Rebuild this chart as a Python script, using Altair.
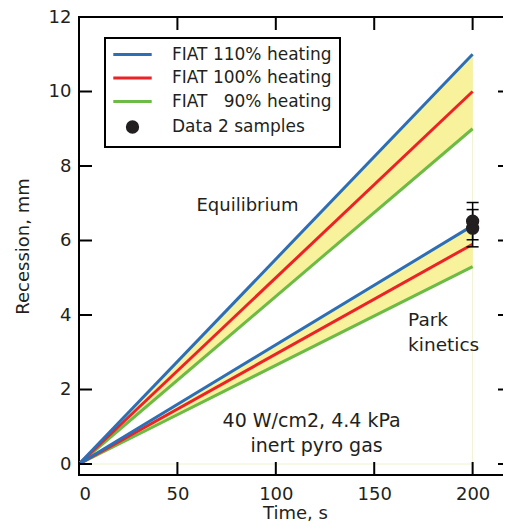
import altair as alt
import pandas as pd

# ---------------- data ----------------
time_s = [0, 200]
series_names = ["FIAT 110% heating", "FIAT 100% heating", "FIAT \u200790% heating", "Data 2 samples"]
series_colors = ["#2c6fb7", "#ec2227", "#6cbb46", "#231f20"]

eq_110 = [0.0, 11.0]
eq_100 = [0.0, 10.0]
eq_90 = [0.0, 9.0]
park_110 = [0.0, 6.4]
park_100 = [0.0, 5.9]
park_90 = [0.0, 5.3]

data_time = [200, 200]
data_recession = [6.52, 6.33]
data_error = [0.5, 0.5]

x_ticks = [0, 50, 100, 150, 200]
y_ticks = [0, 2, 4, 6, 8, 10, 12]
x_range = [0, 219.5]
y_range = [-0.295, 12]

ann_text_a = ["Equilibrium", "Park", "kinetics"]
ann_x_a = [85.6, 167.2, 167.2]
ann_y_a = [6.8, 3.7, 3.04]
ann_text_b = ["40 W/cm2, 4.4 kPa", "inert pyro gas"]
ann_x_b = [118.2, 120.7]
ann_y_b = [0.985, 0.33]

FONT = "DejaVu Sans"
INK = "#231f20"
BAND = "#f8f29c"

# ---------------- tables ----------------
rows = []
for grp, vals in [("Equilibrium", [eq_90, eq_100, eq_110]), ("Park", [park_90, park_100, park_110])]:
    for name, v in zip([series_names[2], series_names[1], series_names[0]], vals):
        for t, r in zip(time_s, v):
            rows.append(dict(group=grp, series=name, t=t, r=r))
lines_df = pd.DataFrame(rows)

band_df = pd.DataFrame(
    [dict(group="Equilibrium", t=t, lo=lo, hi=hi) for t, lo, hi in zip(time_s, eq_90, eq_110)]
    + [dict(group="Park", t=t, lo=lo, hi=hi) for t, lo, hi in zip(time_s, park_90, park_110)]
)

pts_df = pd.DataFrame(dict(t=data_time, r=data_recession, series=series_names[3]))
err_df = pd.DataFrame(dict(
    t=data_time,
    lo=[v - e for v, e in zip(data_recession, data_error)],
    hi=[v + e for v, e in zip(data_recession, data_error)],
))
caps_df = pd.DataFrame(dict(t=data_time + data_time,
                            r=list(err_df["lo"]) + list(err_df["hi"])))

ann_a = pd.DataFrame(dict(t=ann_x_a, r=ann_y_a, label=ann_text_a))
ann_b = pd.DataFrame(dict(t=ann_x_b, r=ann_y_b, label=ann_text_b))

faint_v = pd.DataFrame(dict(t=[200], lo=[0.0], hi=[11.0]))
faint_h = pd.DataFrame(dict(r=[0.0], t0=[0], t1=[200]))

# inward tick marks on the four frame sides (positions at the axis ends)
left_df = pd.DataFrame(dict(t=x_range[0], r=y_ticks))
right_df = pd.DataFrame(dict(t=x_range[1], r=y_ticks))
bottom_df = pd.DataFrame(dict(t=x_ticks, r=y_range[0]))
top_df = pd.DataFrame(dict(t=x_ticks, r=y_range[1]))

# ---------------- scales / axes ----------------
xscale = alt.Scale(domain=x_range, nice=False, zero=False, padding=0)
yscale = alt.Scale(domain=y_range, nice=False, zero=False, padding=0)
xaxis = alt.Axis(values=x_ticks, title="Time, s", labelPadding=10, titlePadding=1)
yaxis = alt.Axis(values=y_ticks, title="Recession, mm", labelPadding=8, titlePadding=16)


def X(field):
    return alt.X(f"{field}:Q", scale=xscale, axis=xaxis)


def Y(field):
    return alt.Y(f"{field}:Q", scale=yscale, axis=yaxis)


line_path = "M-2.743,0H2.743"
dot_path = "M-0.736,0A0.736,0.736,0,1,1,0.736,0A0.736,0.736,0,1,1,-0.736,0Z"
legend_scale = alt.Scale(domain=series_names, range=series_colors)
line_scale = alt.Scale(domain=series_names[:3], range=series_colors[:3])
shape_scale = alt.Scale(domain=series_names, range=[line_path, line_path, line_path, dot_path])

legend = alt.Legend(
    title=None, orient="none", legendX=26, legendY=21, padding=8, rowPadding=5.5,
    symbolOffset=11, labelOffset=31, labelFontSize=17, labelFont=FONT, labelColor=INK,
    symbolSize=196, symbolStrokeWidth=3, strokeColor="black", fillColor="white",
)

# ---------------- layers ----------------
band = alt.Chart(band_df).mark_area(color=BAND, opacity=1).encode(
    x=X("t"), y=Y("lo"), y2="hi", detail="group:N"
)

faint1 = alt.Chart(faint_v).mark_rule(color="#f1f1cf", strokeWidth=1).encode(
    x=X("t"), y=Y("lo"), y2="hi"
)
faint2 = alt.Chart(faint_h).mark_rule(color="#f1f1cf", strokeWidth=1).encode(
    x=X("t0"), x2="t1", y=Y("r")
)

lines = alt.Chart(lines_df).mark_line(strokeWidth=3).encode(
    x=X("t"), y=Y("r"),
    color=alt.Color("series:N", scale=line_scale, legend=None),
    detail="group:N",
)

errbar = alt.Chart(err_df).mark_rule(color="black", strokeWidth=1.5).encode(
    x=X("t"), y=Y("lo"), y2="hi"
)
caps = alt.Chart(caps_df).mark_point(shape="stroke", size=144, strokeWidth=1.5, color="black", opacity=1).encode(
    x=X("t"), y=Y("r")
)

points = alt.Chart(pts_df).mark_point(filled=True, opacity=1, size=196, strokeWidth=3).encode(
    x=X("t"), y=Y("r"),
    fill=alt.Fill("series:N", scale=legend_scale, legend=legend),
    stroke=alt.Stroke("series:N", scale=legend_scale, legend=legend),
    shape=alt.Shape("series:N", scale=shape_scale, legend=legend),
)

text_eq = alt.Chart(ann_a.iloc[[0]]).mark_text(font=FONT, fontSize=18, baseline="alphabetic", align="center", color=INK).encode(
    x=X("t"), y=Y("r"), text="label:N"
)
text_park = alt.Chart(ann_a.iloc[1:]).mark_text(font=FONT, fontSize=18.5, baseline="alphabetic", align="left", color=INK).encode(
    x=X("t"), y=Y("r"), text="label:N"
)
text_b = alt.Chart(ann_b).mark_text(font=FONT, fontSize=19, baseline="alphabetic", align="center", color=INK).encode(
    x=X("t"), y=Y("r"), text="label:N"
)


def ticks(df, path):
    return alt.Chart(df).mark_point(shape=path, size=169, strokeWidth=2, color="black",
                                    opacity=1, filled=False).encode(x=X("t"), y=Y("r"))


chart = alt.layer(
    faint1, faint2, band, lines, errbar, caps, points, text_eq, text_park, text_b,
    ticks(left_df, "M0,0H2"), ticks(right_df, "M0,0H-2"),
    ticks(bottom_df, "M0,0V-2"), ticks(top_df, "M0,0V2"),
).properties(
    width=432, height=458,
    autosize=alt.AutoSizeParams(type="none"),
    padding={"left": 71, "top": 9, "right": -8, "bottom": 49},
).configure(
    font=FONT,
).configure_view(
    stroke="black", strokeWidth=2,
).configure_axis(
    labelFont=FONT, labelFontSize=18, labelColor=INK,
    titleFont=FONT, titleFontSize=18, titleFontWeight="normal", titleColor=INK,
    domain=False, ticks=False, grid=False,
).configure_legend(
    strokeWidth=2,
)

chart.save("out.html", embed_options={"renderer": "svg", "actions": False})
